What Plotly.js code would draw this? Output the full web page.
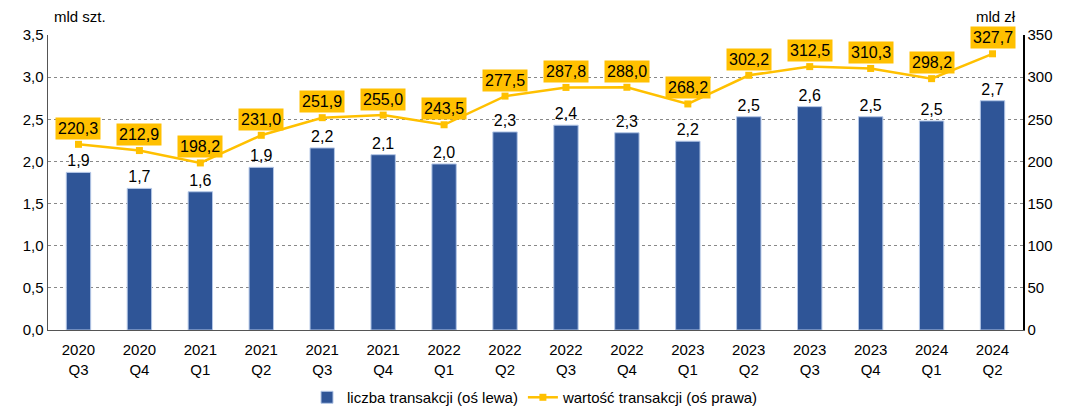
<!DOCTYPE html>
<html><head><meta charset="utf-8">
<script src="https://cdn.plot.ly/plotly-3.0.1.min.js"></script>
<style>body{margin:0;background:#fff}#c{width:1065px;height:407px}</style>
</head><body><div id="c"></div>
<script>
const categories = ["2020<br>Q3","2020<br>Q4","2021<br>Q1","2021<br>Q2","2021<br>Q3","2021<br>Q4","2022<br>Q1","2022<br>Q2","2022<br>Q3","2022<br>Q4","2023<br>Q1","2023<br>Q2","2023<br>Q3","2023<br>Q4","2024<br>Q1","2024<br>Q2"];
const countValues = [1.87,1.68,1.64,1.93,2.16,2.08,1.97,2.35,2.43,2.34,2.24,2.53,2.65,2.53,2.48,2.72];
const countLabels = ["1,9","1,7","1,6","1,9","2,2","2,1","2,0","2,3","2,4","2,3","2,2","2,5","2,6","2,5","2,5","2,7"];
const valueValues = [220.3,212.9,198.2,231.0,251.9,255.0,243.5,277.5,287.8,288.0,268.2,302.2,312.5,310.3,298.2,327.7];
const leftTicks = [0,0.5,1,1.5,2,2.5,3,3.5];
const leftTickText = ["0,0","0,5","1,0","1,5","2,0","2,5","3,0","3,5"];

const font = "Liberation Sans, Arial, sans-serif";
const traces = [
  {type:"bar", x:categories, y:countValues, name:"liczba transakcji (oś lewa)",
   marker:{color:"#2F5597", line:{color:"#B4C7E7", width:1}}, width:0.4,
   text:countLabels, textposition:"outside", cliponaxis:false,
   textfont:{family:font, size:16, color:"#000"}, hoverinfo:"skip"},
  {type:"scatter", mode:"lines+markers", x:categories, y:valueValues, yaxis:"y2",
   name:"wartość transakcji (oś prawa)",
   line:{color:"#FFC000", width:2.5}, marker:{color:"#FFC000", size:7, symbol:"square"}, hoverinfo:"skip"}
];
const annotations = valueValues.map((v,i)=>({
  x:categories[i], y:v, xref:"x", yref:"y2", text:v.toFixed(1).replace(".",","),
  showarrow:false, yshift:16, bgcolor:"#FFC000", borderpad:2,
  font:{family:font, size:16, color:"#000"}
}));
annotations.push({xref:"paper", yref:"paper", x:0, y:1.0, xshift:4, yshift:8, xanchor:"left", yanchor:"bottom",
  text:"mld szt.", showarrow:false, font:{family:font, size:15, color:"#000"}});
annotations.push({xref:"paper", yref:"paper", x:1.0, y:1.0, xshift:-5, yshift:8, xanchor:"right", yanchor:"bottom",
  text:"mld zł", showarrow:false, font:{family:font, size:15, color:"#000"}});

const layout = {
  width:1065, height:407, margin:{l:48, r:42, t:35, b:77, autoexpand:false},
  paper_bgcolor:"#fff", plot_bgcolor:"#fff",
  font:{family:font, size:15, color:"#000"},
  bargap:0.6, showlegend:true,
  legend:{orientation:"h", x:0.5, xanchor:"center", y:-0.173, yanchor:"top", font:{family:font, size:15}, itemwidth:30},
  xaxis:{type:"category", range:[-0.5,15.5], automargin:false, showline:true, linecolor:"#555", linewidth:1, ticks:"",
    ticklabelstandoff:6, tickfont:{family:font, size:15}, showgrid:false},
  yaxis:{range:[0,3.5], automargin:false, tickvals:leftTicks, ticktext:leftTickText, showline:true, linecolor:"#555", linewidth:1.5,
    showgrid:true, gridcolor:"#888", griddash:"dot", gridwidth:1, zeroline:false, ticks:"", tickfont:{family:font, size:15}},
  yaxis2:{overlaying:"y", side:"right", automargin:false, range:[0,350], dtick:50, showline:true, linecolor:"#000", linewidth:1.5,
    showgrid:false, zeroline:false, ticks:"", tickfont:{family:font, size:15}},
  annotations:annotations
};
Plotly.newPlot("c", traces, layout, {displayModeBar:false, staticPlot:true});
</script></body></html>
